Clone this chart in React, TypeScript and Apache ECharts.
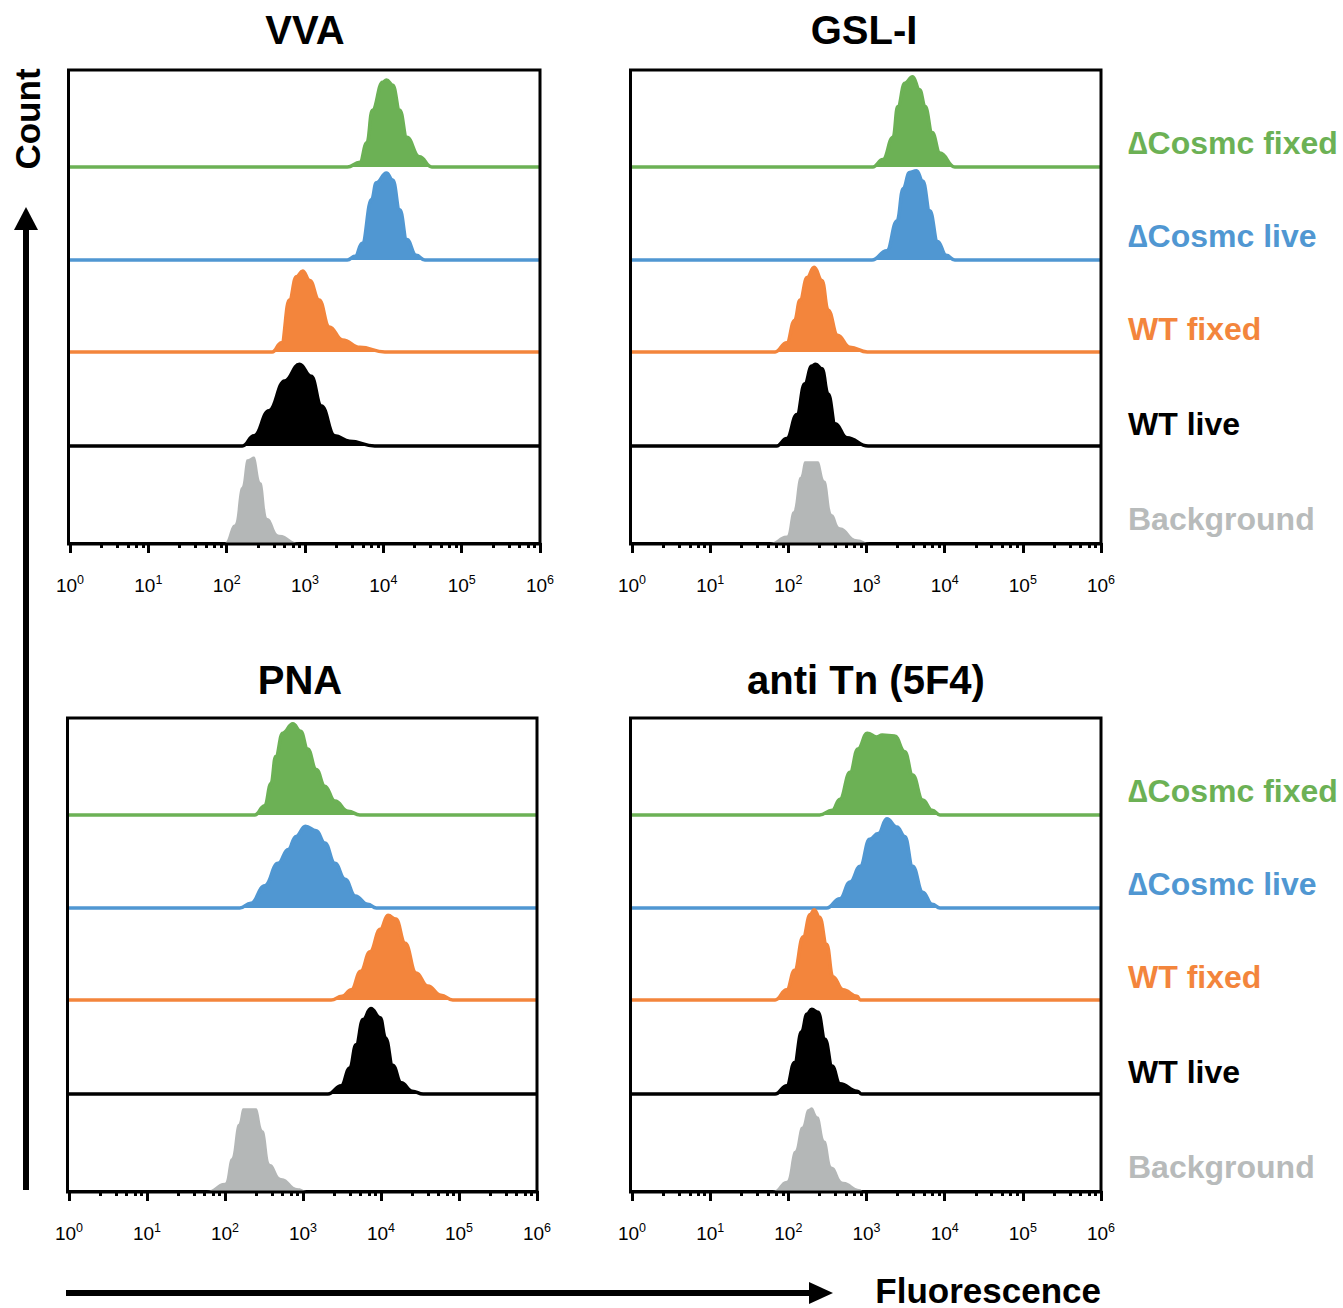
import React, { useEffect, useRef } from "react";
import * as echarts from "echarts";

// ---- data: [log10 fluorescence, relative count (fraction of row height)] ----
const sampleNames = ["\u2206Cosmc fixed", "\u2206Cosmc live", "WT fixed", "WT live", "Background"];
const panelTitles = ["VVA", "GSL-I", "PNA", "anti Tn (5F4)"];

const vvaKoFixed = [[3.54, 0], [3.7, 0.05], [3.79, 0.26], [3.86, 0.61], [3.99, 0.91], [4.04, 0.935], [4.12, 0.88], [4.21, 0.61], [4.3, 0.32], [4.46, 0.11], [4.62, 0]];
const vvaKoLive = [[3.54, 0], [3.64, 0.04], [3.73, 0.18], [3.85, 0.65], [3.91, 0.83], [4.04, 0.935], [4.12, 0.86], [4.21, 0.54], [4.3, 0.22], [4.42, 0.05], [4.53, 0]];
const vvaWtFixed = [[2.58, 0], [2.7, 0.1], [2.8, 0.56], [2.89, 0.81], [2.97, 0.87], [3.06, 0.77], [3.18, 0.56], [3.31, 0.27], [3.48, 0.13], [3.7, 0.05], [4.02, 0]];
const vvaWtLive = [[2.2, 0], [2.35, 0.11], [2.54, 0.38], [2.74, 0.7], [2.93, 0.88], [3.08, 0.75], [3.21, 0.43], [3.38, 0.11], [3.57, 0.05], [3.89, 0]];
const vvaBg = [[1.97, 0], [2.1, 0.2], [2.19, 0.6], [2.26, 0.9], [2.35, 0.93], [2.44, 0.65], [2.52, 0.27], [2.67, 0.09], [2.93, 0]];

const gslKoFixed = [[3.08, 0], [3.21, 0.08], [3.34, 0.32], [3.4, 0.65], [3.49, 0.9], [3.59, 0.97], [3.68, 0.83], [3.75, 0.65], [3.84, 0.37], [3.94, 0.15], [4.13, 0]];
const gslKoLive = [[3.07, 0], [3.26, 0.1], [3.39, 0.42], [3.47, 0.77], [3.55, 0.94], [3.64, 0.96], [3.72, 0.85], [3.81, 0.53], [3.91, 0.2], [4.02, 0.05], [4.13, 0]];
const gslWtFixed = [[1.83, 0], [1.98, 0.1], [2.08, 0.34], [2.15, 0.56], [2.24, 0.8], [2.33, 0.91], [2.43, 0.77], [2.51, 0.45], [2.63, 0.18], [2.79, 0.05], [3.01, 0]];
const gslWtLive = [[1.85, 0], [1.98, 0.08], [2.11, 0.34], [2.21, 0.67], [2.3, 0.86], [2.35, 0.88], [2.43, 0.83], [2.51, 0.56], [2.6, 0.24], [2.75, 0.09], [3.02, 0]];
const gslBg = [[1.76, 0], [1.98, 0.08], [2.06, 0.34], [2.15, 0.71], [2.21, 0.88], [2.38, 0.88], [2.47, 0.67], [2.56, 0.31], [2.66, 0.17], [2.88, 0.04], [3.04, 0]];

const pnaKoFixed = [[2.38, 0], [2.51, 0.1], [2.59, 0.34], [2.65, 0.63], [2.74, 0.88], [2.87, 0.98], [2.97, 0.9], [3.06, 0.71], [3.17, 0.49], [3.28, 0.31], [3.41, 0.15], [3.58, 0.04], [3.73, 0]];
const pnaKoLive = [[2.19, 0], [2.33, 0.05], [2.51, 0.24], [2.68, 0.48], [2.81, 0.63], [2.91, 0.77], [3.03, 0.88], [3.17, 0.83], [3.28, 0.7], [3.41, 0.48], [3.54, 0.31], [3.67, 0.13], [3.83, 0.04], [3.94, 0]];
const pnaWtFixed = [[3.36, 0], [3.5, 0.04], [3.62, 0.11], [3.74, 0.31], [3.86, 0.52], [3.99, 0.76], [4.09, 0.91], [4.19, 0.87], [4.31, 0.61], [4.45, 0.29], [4.6, 0.15], [4.77, 0.05], [4.92, 0]];
const pnaWtLive = [[3.32, 0], [3.49, 0.09], [3.6, 0.28], [3.68, 0.53], [3.77, 0.8], [3.87, 0.92], [3.99, 0.82], [4.06, 0.6], [4.15, 0.31], [4.26, 0.12], [4.4, 0.03], [4.54, 0]];
const pnaBg = [[1.76, 0], [2.0, 0.09], [2.08, 0.35], [2.17, 0.72], [2.23, 0.89], [2.4, 0.89], [2.49, 0.65], [2.58, 0.29], [2.72, 0.14], [2.94, 0.03], [3.06, 0]];

const tnKoFixed = [[2.4, 0], [2.56, 0.05], [2.66, 0.17], [2.79, 0.46], [2.89, 0.71], [3.01, 0.88], [3.13, 0.84], [3.2, 0.86], [3.36, 0.85], [3.49, 0.68], [3.59, 0.43], [3.72, 0.16], [3.84, 0.05], [3.94, 0]];
const tnKoLive = [[2.49, 0], [2.66, 0.1], [2.79, 0.28], [2.92, 0.45], [3.04, 0.74], [3.15, 0.8], [3.26, 0.96], [3.39, 0.87], [3.49, 0.77], [3.59, 0.45], [3.72, 0.17], [3.84, 0.04], [3.94, 0]];
const tnWtFixed = [[1.83, 0], [1.98, 0.11], [2.08, 0.32], [2.19, 0.68], [2.28, 0.92], [2.33, 0.97], [2.4, 0.89], [2.49, 0.6], [2.57, 0.25], [2.7, 0.11], [2.88, 0.04], [2.92, 0]];
const tnWtLive = [[1.83, 0], [1.98, 0.09], [2.08, 0.34], [2.17, 0.67], [2.24, 0.86], [2.3, 0.91], [2.38, 0.88], [2.47, 0.59], [2.56, 0.3], [2.66, 0.11], [2.88, 0.03], [2.94, 0]];
const tnBg = [[1.8, 0], [1.98, 0.11], [2.08, 0.43], [2.17, 0.69], [2.25, 0.88], [2.3, 0.9], [2.38, 0.8], [2.47, 0.54], [2.56, 0.26], [2.7, 0.1], [2.92, 0.02], [2.95, 0]];

const panelCurves = [
  [vvaKoFixed, vvaKoLive, vvaWtFixed, vvaWtLive, vvaBg],
  [gslKoFixed, gslKoLive, gslWtFixed, gslWtLive, gslBg],
  [pnaKoFixed, pnaKoLive, pnaWtFixed, pnaWtLive, pnaBg],
  [tnKoFixed, tnKoLive, tnWtFixed, tnWtLive, tnBg],
];

// ---- styling / layout ----
const FONT = '"Liberation Sans", Arial, Helvetica, sans-serif';
const COLORS = ["#6cb155", "#5097d2", "#f3853c", "#000000", "#b4b7b7"];
const LABEL_COLORS = ["#6cb155", "#5097d2", "#f3853c", "#000000", "#b8bbbb"];
const PANELS = [
  { left: 70, width: 470, top: 70, titleX: 305, titleY: 30 },
  { left: 632, width: 469, top: 70, titleX: 864, titleY: 30 },
  { left: 69, width: 468, top: 718, titleX: 300, titleY: 680 },
  { left: 632, width: 469, top: 718, titleX: 866, titleY: 680 },
];
const ROW_BASE = [97, 190, 282, 376, 473];
const ROW_H = 93;
const LABEL_OFF = [73, 166, 259, 354, 449];

function buildOption() {
  const grid: any[] = [];
  const xAxis: any[] = [];
  const yAxis: any[] = [];
  const series: any[] = [];
  const graphic: any[] = [];

  PANELS.forEach((p, pi) => {
    for (let r = 0; r < 5; r++) {
      const idx = grid.length;
      const bottomRow = r === 4;
      grid.push({ left: p.left, width: p.width, top: p.top + ROW_BASE[r] - ROW_H, height: ROW_H, containLabel: false });
      xAxis.push({
        type: "log",
        logBase: 10,
        min: 1,
        max: 1000000,
        splitNumber: 6,
        gridIndex: idx,
        show: bottomRow,
        axisLine: { show: true, onZero: false, lineStyle: { color: "#000", width: 3 } },
        axisTick: { show: true, inside: false, length: 10, lineStyle: { color: "#000", width: 3 } },
        minorTick: { show: true, splitNumber: 6, length: 5, lineStyle: { color: "#000", width: 3 } },
        splitLine: { show: false },
        minorSplitLine: { show: false },
        axisLabel: {
          show: true,
          margin: 30,
          color: "#000",
          formatter: (v: number) => `{b|10}{s|${Math.round(Math.log10(v))}}`,
          rich: {
            b: { fontSize: 19, fontFamily: FONT, color: "#000", lineHeight: 24, verticalAlign: "middle" },
            s: { fontSize: 12.5, fontFamily: FONT, color: "#000", lineHeight: 14, verticalAlign: "top" },
          },
        },
      });
      yAxis.push({ type: "value", min: 0, max: 1, gridIndex: idx, show: false, splitLine: { show: false } });
      const curve = panelCurves[pi][r];
      const data = [[1, 0], ...curve.map(([e, h]) => [Math.pow(10, e), h]), [1000000, 0]];
      series.push({
        type: "line",
        name: `${panelTitles[pi]} ${sampleNames[r]}`,
        xAxisIndex: idx,
        yAxisIndex: idx,
        data,
        smooth: 0.45,
        smoothMonotone: "x",
        symbol: "none",
        clip: false,
        silent: true,
        lineStyle: { color: COLORS[r], width: r === 4 ? 0 : 3.5 },
        areaStyle: { color: COLORS[r], opacity: 1 },
        z: 2,
      });
      if (pi === 1 || pi === 3) {
        graphic.push({
          type: "text",
          x: 1128,
          y: p.top + LABEL_OFF[r],
          style: {
            text: sampleNames[r],
            fill: LABEL_COLORS[r],
            font: `bold 32px ${FONT}`,
            textAlign: "left",
            textVerticalAlign: "middle",
          },
        });
      }
    }
    graphic.push({
      type: "rect",
      shape: { x: p.left - 1.5, y: p.top, width: p.width + 1.5, height: ROW_BASE[4] + 1 },
      style: { fill: "none", stroke: "#000", lineWidth: 3 },
      z: 100,
      silent: true,
    });
    graphic.push({
      type: "text",
      x: p.titleX,
      y: p.titleY,
      style: {
        text: panelTitles[pi],
        fill: "#000",
        font: `bold 40px ${FONT}`,
        textAlign: "center",
        textVerticalAlign: "middle",
      },
    });
  });

  // Count axis arrow
  graphic.push({ type: "line", shape: { x1: 26, y1: 1190, x2: 26, y2: 226 }, style: { stroke: "#000", lineWidth: 6 } });
  graphic.push({ type: "polygon", shape: { points: [[26, 207], [14, 230], [38, 230]] }, style: { fill: "#000" } });
  graphic.push({
    type: "text",
    x: 27,
    y: 119,
    rotation: Math.PI / 2,
    style: { text: "Count", fill: "#000", font: `bold 35px ${FONT}`, textAlign: "center", textVerticalAlign: "middle" },
  });
  // Fluorescence axis arrow
  graphic.push({ type: "line", shape: { x1: 66, y1: 1293, x2: 812, y2: 1293 }, style: { stroke: "#000", lineWidth: 6 } });
  graphic.push({ type: "polygon", shape: { points: [[833, 1293], [809, 1282], [809, 1304]] }, style: { fill: "#000" } });
  graphic.push({
    type: "text",
    x: 1101,
    y: 1290,
    style: { text: "Fluorescence", fill: "#000", font: `bold 35px ${FONT}`, textAlign: "right", textVerticalAlign: "middle" },
  });

  return { animation: false, backgroundColor: "#fff", grid, xAxis, yAxis, series, graphic };
}

export default function App() {
  const ref = useRef<HTMLDivElement>(null);
  useEffect(() => {
    if (!ref.current) return;
    const chart = echarts.init(ref.current, null, { renderer: "svg" });
    chart.setOption(buildOption());
    return () => chart.dispose();
  }, []);
  return (
    <div
      ref={ref}
      style={{ position: "fixed", left: 0, top: 0, width: 1343, height: 1308, background: "#fff" }}
    />
  );
}
